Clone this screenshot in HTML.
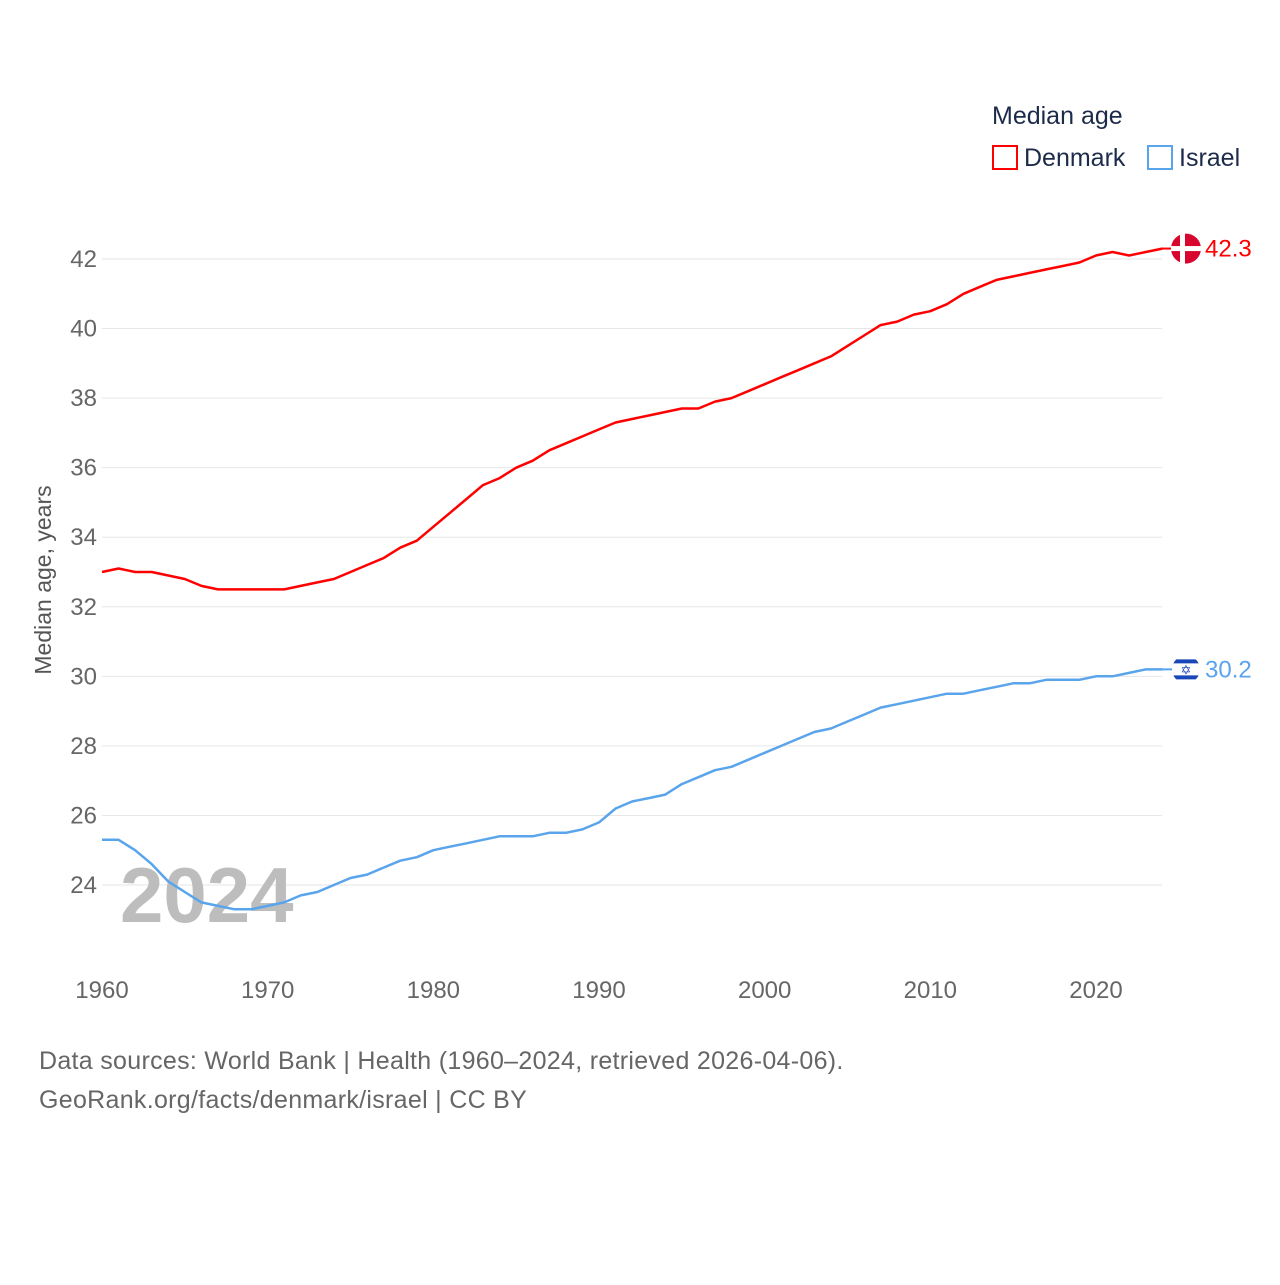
<!DOCTYPE html>
<html><head><meta charset="utf-8"><style>
body{margin:0;background:#fff;font-family:"Liberation Sans",sans-serif;}
svg text{font-family:"Liberation Sans",sans-serif;}
</style></head><body>
<svg id="chart" width="1280" height="1280" viewBox="0 0 1280 1280" xmlns="http://www.w3.org/2000/svg">
<defs><clipPath id="ilclip"><circle id="ilc" cx="1186" cy="669" r="14"/></clipPath></defs>
<rect width="1280" height="1280" fill="#fff"/>
<g id="grid"></g>
<g id="yticks"></g>
<g id="xticks"></g>
<text x="120" y="922" font-size="78" font-weight="bold" fill="#bdbdbd">2024</text>
<text transform="translate(51,580) rotate(-90)" text-anchor="middle" font-size="23" fill="#555">Median age, years</text>
<g id="series"></g>
<text x="992" y="124" font-size="25" fill="#1c2b4a">Median age</text>
<rect x="993" y="146" width="24" height="23" fill="none" stroke="#ff0000" stroke-width="2"/>
<text x="1024" y="166" font-size="25" fill="#1c2b4a">Denmark</text>
<rect x="1148" y="146" width="24" height="23" fill="none" stroke="#5aa4ec" stroke-width="2"/>
<text x="1179" y="166" font-size="25" fill="#1c2b4a">Israel</text>
<text x="39" y="1069" font-size="25" letter-spacing="0.3" fill="#666">Data sources: World Bank | Health (1960–2024, retrieved 2026-04-06).</text>
<text x="39" y="1108" font-size="25" letter-spacing="0.3" fill="#666">GeoRank.org/facts/denmark/israel | CC BY</text>
</svg>
<script>
const years = [];
for (let y = 1960; y <= 2024; y++) years.push(y);
const denmark = [33.0,33.1,33.0,33.0,32.9,32.8,32.6,32.5,32.5,32.5,32.5,32.5,32.6,32.7,32.8,33.0,33.2,33.4,33.7,33.9,34.3,34.7,35.1,35.5,35.7,36.0,36.2,36.5,36.7,36.9,37.1,37.3,37.4,37.5,37.6,37.7,37.7,37.9,38.0,38.2,38.4,38.6,38.8,39.0,39.2,39.5,39.8,40.1,40.2,40.4,40.5,40.7,41.0,41.2,41.4,41.5,41.6,41.7,41.8,41.9,42.1,42.2,42.1,42.2,42.3];
const israel = [25.3,25.3,25.0,24.6,24.1,23.8,23.5,23.4,23.3,23.3,23.4,23.5,23.7,23.8,24.0,24.2,24.3,24.5,24.7,24.8,25.0,25.1,25.2,25.3,25.4,25.4,25.4,25.5,25.5,25.6,25.8,26.2,26.4,26.5,26.6,26.9,27.1,27.3,27.4,27.6,27.8,28.0,28.2,28.4,28.5,28.7,28.9,29.1,29.2,29.3,29.4,29.5,29.5,29.6,29.7,29.8,29.8,29.9,29.9,29.9,30.0,30.0,30.1,30.2,30.2];
const yTickValues = [24,26,28,30,32,34,36,38,40,42];
const xTickValues = [1960,1970,1980,1990,2000,2010,2020];

const NS = "http://www.w3.org/2000/svg";
const x = v => 102 + (v - 1960) * (1096 - 102) / 60;
const y = v => 885 - (v - 24) * (885 - 259) / 18;
function mk(tag, attrs, parent) {
  const e = document.createElementNS(NS, tag);
  for (const k in attrs) e.setAttribute(k, attrs[k]);
  parent.appendChild(e);
  return e;
}
const grid = document.getElementById('grid'), yt = document.getElementById('yticks'), xt = document.getElementById('xticks'), ser = document.getElementById('series');
yTickValues.forEach(v => {
  const l = mk('line', {x1: 102, x2: 1162, y1: y(v), y2: y(v), stroke: '#e6e6e6', 'stroke-width': 1}, grid);
  
  
  const t = mk('text', {x: 97, y: y(v) + 8, 'text-anchor': 'end', 'font-size': 24, fill: '#666'}, yt);
  t.textContent = v;
  
  
});
xTickValues.forEach(v => {
  const t = mk('text', {x: x(v), y: 998, 'text-anchor': 'middle', 'font-size': 24, fill: '#666'}, xt);
  t.textContent = v;
  
  
});
function drawLine(vals, color, name) {
  const d = vals.map((v, i) => (i ? 'L' : 'M') + x(years[i]).toFixed(1) + ',' + y(v).toFixed(1)).join('');
  const p = mk('path', {d: d, fill: 'none', stroke: color, 'stroke-width': 2.5, 'stroke-linejoin': 'round'}, ser);
  
  
  const last = vals[vals.length - 1];
  const ly = y(last);
  const c = mk('line', {x1: 1162, x2: 1176, y1: ly, y2: ly, stroke: color, 'stroke-width': 2}, ser);
  
  
  const t = mk('text', {x: 1205, y: ly + 8, 'font-size': 24, fill: color}, ser);
  t.textContent = last.toFixed(1);
  
  
  return ly;
}
const dy = drawLine(denmark, '#ff0000', 'denmark');
const iy = drawLine(israel, '#5aa4ec', 'israel');
const fd = mk('g', {}, ser);


mk('circle', {cx: 1186, cy: dy, r: 15, fill: '#d8062f'}, fd);
mk('rect', {x: 1171, y: dy - 2.5, width: 30, height: 5, fill: '#fff'}, fd);
mk('rect', {x: 1180, y: dy - 15, width: 5, height: 30, fill: '#fff'}, fd);
document.getElementById('ilc').setAttribute('cy', iy);
const fi = mk('g', {'clip-path': 'url(#ilclip)'}, ser);


mk('circle', {cx: 1186, cy: iy, r: 14, fill: '#fff'}, fi);
mk('rect', {x: 1170, y: iy - 10, width: 32, height: 4, fill: '#1a47b8'}, fi);
mk('rect', {x: 1170, y: iy + 6, width: 32, height: 4, fill: '#1a47b8'}, fi);
const star = mk('text', {x: 1186, y: iy + 5, 'text-anchor': 'middle', 'font-size': 13, fill: '#1a47b8'}, fi);
star.textContent = '✡';
</script>
</body></html>
